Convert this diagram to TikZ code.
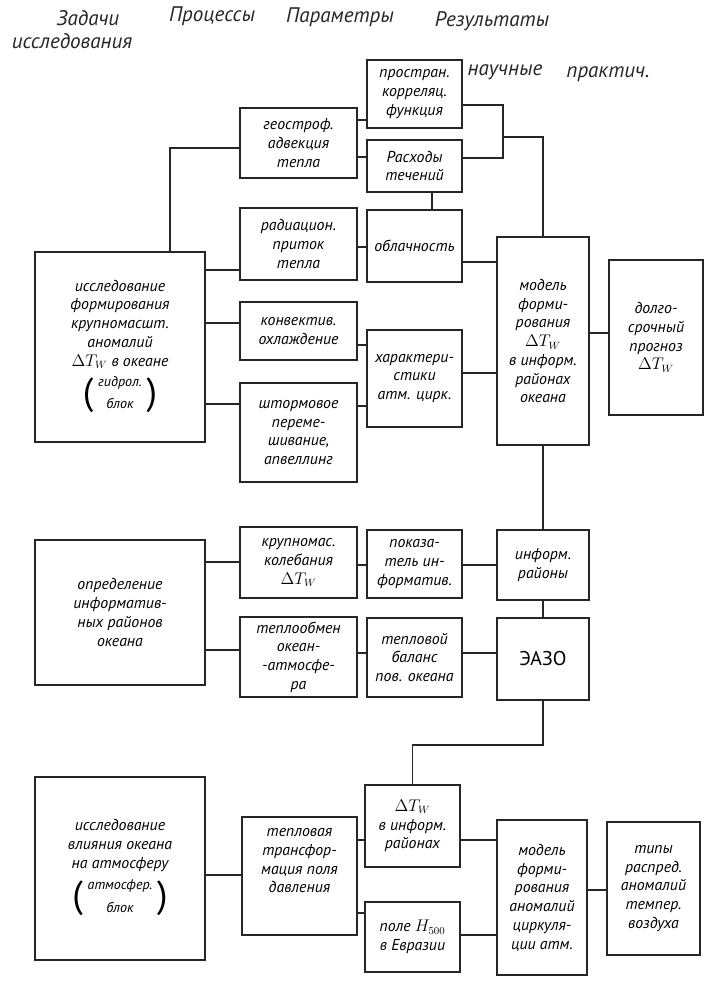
\documentclass[tikz,border=0pt]{standalone}
\usepackage{fontspec}
\setmainfont{PT Sans}
\newcommand{\inparen}[2]{{\upshape\fontsize{32}{32}\selectfont(}\hspace{4pt}\raisebox{6pt}{\fontsize{12}{15}\selectfont\begin{tabular}{@{}c@{}}#1\\[4pt]#2\end{tabular}}\hspace{4pt}{\upshape\fontsize{32}{32}\selectfont)}}
\begin{document}
\begin{tikzpicture}[x=0.03cm, y=-0.03cm,
		box/.style = {draw=black!85, line width=1.3pt, align=center, inner sep=1pt, font=\itshape\fontsize{13.5}{16}\selectfont},
		head/.style = {font=\itshape\fontsize{18}{20}\selectfont, text=black!85, align=left},
		wire/.style = {draw=black!85, line width=0.9pt}]
			
			\useasboundingbox (0,0) rectangle (706,983);
			
			% headings
			\node[head] (h1) at (88,18) {Задачи};
			\node[head] (h2) at (72,41) {исследования};
			\node[head] (h3) at (212,16) {Процессы};
			\node[head] (h4) at (340,17) {Параметры};
			\node[head] (h5) at (492,21) {Результаты};
			\node[head] (h6) at (505,72) {научные};
			\node[head] (h7) at (608,74) {практич.};
			
			% upper block
			\node[box, minimum width=5.1cm, minimum height=5.7cm] (ls1) at (120,347) {исследование\\формирования\\крупномасшт.\\аномалий\\$\Delta T_W$ в океане\\[4pt]\inparen{гидрол.}{блок}};
			
			\node[box, minimum width=3.51cm, minimum height=2.1cm] (geo) at (298.5,143) {геостроф.\\адвекция\\тепла};
			\node[box, minimum width=3.51cm, minimum height=2.16cm] (rad) at (298.5,244) {радиацион.\\приток\\тепла};
			\node[box, minimum width=3.51cm, minimum height=1.74cm] (konv) at (298.5,331) {конвектив.\\охлаждение};
			\node[box, minimum width=3.51cm, minimum height=2.97cm] (storm) at (298.5,432.5) {штормовое\\переме-\\шивание,\\апвеллинг};
			
			\node[box, minimum width=2.85cm, minimum height=2.04cm] (kor) at (414.5,94) {простран.\\корреляц.\\функция};
			\node[box, minimum width=2.85cm, minimum height=1.56cm] (ras) at (414.5,166) {Расходы\\течений};
			\node[box, minimum width=2.85cm, minimum height=2.16cm] (obl) at (414.5,246) {облачность};
			\node[box, minimum width=2.85cm, minimum height=2.91cm] (har) at (414.5,378.5) {характери-\\стики\\атм. цирк.};
			
			\node[box, minimum width=2.76cm, minimum height=6.24cm] (mod1) at (543,341) {модель\\форми-\\рования\\$\Delta T_W$\\в информ.\\районах\\океана};
			\node[box, minimum width=2.82cm, minimum height=4.65cm] (prog) at (656,337.5) {долго-\\срочный\\прогноз\\$\Delta T_W$};
			
			% middle block
			\node[box, minimum width=5.1cm, minimum height=4.35cm] (opr) at (120,612.5) {определение\\информатив-\\ных районов\\океана};
			\node[box, minimum width=3.51cm, minimum height=2.13cm] (krup) at (298.5,562.5) {крупномас.\\колебания\\$\Delta T_W$};
			\node[box, minimum width=3.51cm, minimum height=2.4cm] (tob) at (298.5,657) {теплообмен\\океан-\\-атмосфе-\\ра};
			\node[box, minimum width=2.85cm, minimum height=2.04cm] (pok) at (414.5,564) {показа-\\тель ин-\\форматив.};
			\node[box, minimum width=2.85cm, minimum height=2.37cm] (tbal) at (414.5,657.5) {тепловой\\баланс\\пов. океана};
			\node[box, minimum width=2.76cm, minimum height=2.1cm] (inf) at (543,565) {информ.\\районы};
			\node[box, minimum width=2.76cm, minimum height=2.46cm, font=\fontsize{17}{19}\selectfont] (eazo) at (543,659) {ЭАЗО};
			
			% lower block
			\node[box, minimum width=5.1cm, minimum height=5.49cm] (ls3) at (120,868.5) {исследование\\влияния океана\\на атмосферу\\[4pt]\inparen{атмосфер.}{блок}};
			\node[box, minimum width=3.45cm, minimum height=3.54cm] (tep) at (299.5,876) {тепловая\\трансфор-\\мация поля\\давления\\[10pt]};
			\node[box, minimum width=2.85cm, minimum height=2.46cm] (dtw) at (412.5,826) {$\Delta T_W$\\в информ.\\районах};
			\node[box, minimum width=2.85cm, minimum height=2.1cm] (pole) at (412.5,937) {поле $H_{500}$\\в Евразии};
			\node[box, minimum width=2.7cm, minimum height=4.65cm] (mod2) at (542,897.5) {модель\\форми-\\рования\\аномалий\\циркуля-\\ции атм.};
			\node[box, minimum width=2.79cm, minimum height=3.99cm] (tip) at (653.5,888.5) {типы\\распред.\\аномалий\\темпер.\\воздуха};
			
			\coordinate (jk) at (503,137);
			
			% connectors, upper block
			\draw[wire] (ls1.north -| 170,0) |- (geo.west |- 0,148);
			\draw[wire] (geo.east |- 0,120) -- (kor.west |- 0,120);
			\draw[wire] (geo.east |- 0,157) -- (ras.west |- 0,157);
			\draw[wire] (kor.east |- 0,105) -| (jk) |- (ras.east |- 0,158);
			\draw[wire] (jk) -| (mod1.north);
			\draw[wire] (ras.south -| 432,0) -- (obl.north -| 432,0);
			\draw[wire] (ls1.east |- 0,270) -- (rad.west |- 0,270);
			\draw[wire] (rad.east |- 0,247) -- (obl.west |- 0,247);
			\draw[wire] (obl.east |- 0,262) -- (mod1.west |- 0,262);
			\draw[wire] (ls1.east |- 0,323) -- (konv.west |- 0,323);
			\draw[wire] (ls1.east |- 0,404) -- (storm.west |- 0,404);
			\draw[wire] (konv.east |- 0,345) -- (har.west |- 0,345);
			\draw[wire] (storm.east |- 0,406) -- (har.west |- 0,406);
			\draw[wire] (har.east |- 0,373) -- (mod1.west |- 0,373);
			\draw[wire] (mod1.east |- 0,333) -- (prog.west |- 0,333);
			\draw[wire] (mod1.south) -- (inf.north);
			
			% connectors, middle block
			\draw[wire] (opr.east |- 0,562) -- (krup.west |- 0,562);
			\draw[wire] (opr.east |- 0,650) -- (tob.west |- 0,650);
			\draw[wire] (krup.east |- 0,565) -- (pok.west |- 0,565);
			\draw[wire] (pok.east |- 0,565) -- (inf.west |- 0,565);
			\draw[wire] (tob.east |- 0,653) -- (tbal.west |- 0,653);
			\draw[wire] (tbal.east |- 0,653) -- (eazo.west |- 0,653);
			\draw[wire] (inf.south) -- (eazo.north);
			\draw[wire] (eazo.south) |- (dtw.north |- 0,745) -- (dtw.north);
			
			% connectors, lower block
			\draw[wire] (ls3.east |- 0,875) -- (tep.west |- 0,875);
			\draw[wire] (tep.east |- 0,840) -- (dtw.west |- 0,840);
			\draw[wire] (tep.east |- 0,913) -- (pole.west |- 0,913);
			\draw[wire] (dtw.east |- 0,840) -- (mod2.west |- 0,840);
			\draw[wire] (pole.east |- 0,935) -- (mod2.west |- 0,935);
			\draw[wire] (mod2.east |- 0,890) -- (tip.west |- 0,890);
			
		\end{tikzpicture}
\end{document}
